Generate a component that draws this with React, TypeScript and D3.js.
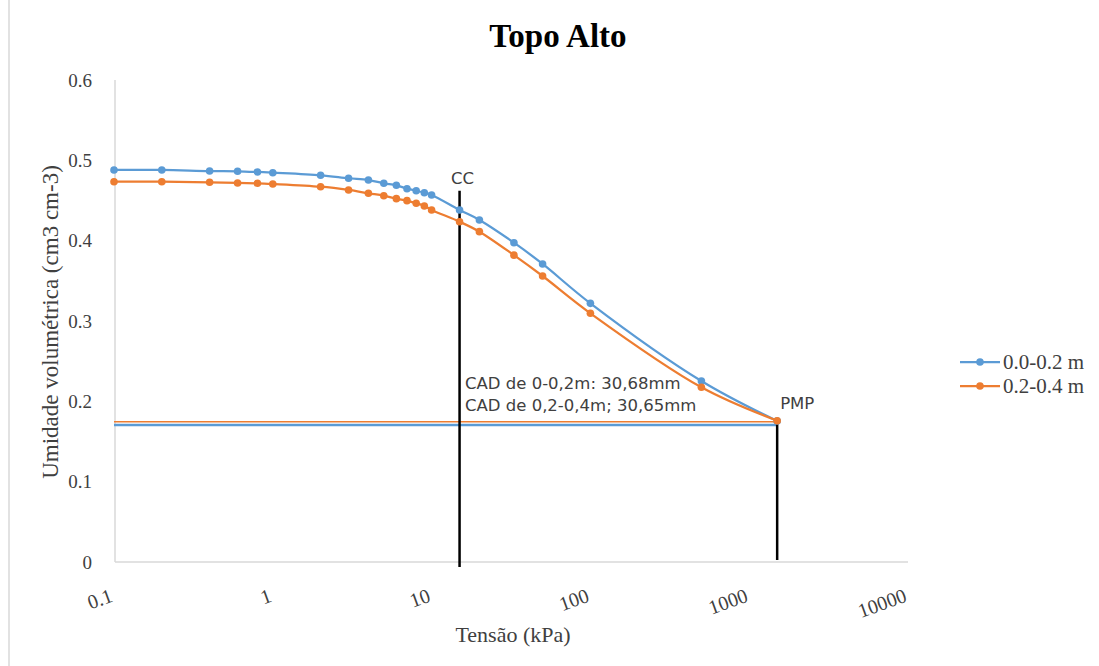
import { useEffect, useRef } from "react";
import * as d3 from "d3";

// tensão (kPa) for each measured point
const tensao = [0.1, 0.2, 0.4, 0.6, 0.8, 1, 2, 3, 4, 5, 6, 7, 8, 9, 10, 15, 20, 33, 50, 100, 500, 1500];
// umidade volumétrica 0.0-0.2 m
const umidade00_02 = [
  0.488, 0.488, 0.4867, 0.4864, 0.4855, 0.4846, 0.4814, 0.4777, 0.4755, 0.4714, 0.4689,
  0.4647, 0.4622, 0.4597, 0.4569, 0.4382, 0.4258, 0.3975, 0.371, 0.322, 0.2253, 0.1755,
];
// umidade volumétrica 0.2-0.4 m
const umidade02_04 = [
  0.4734, 0.4734, 0.4727, 0.4718, 0.4714, 0.4706, 0.4672, 0.4631, 0.459, 0.456, 0.4523,
  0.4498, 0.4465, 0.4432, 0.4382, 0.4236, 0.4112, 0.382, 0.356, 0.3096, 0.2175, 0.1759,
];
const seriesNames = ["0.0-0.2 m", "0.2-0.4 m"];
const seriesColors = ["#5b9bd5", "#ed7d31"];

const yTicks = [0, 0.1, 0.2, 0.3, 0.4, 0.5, 0.6];
const xTicks = [0.1, 1, 10, 100, 1000, 10000];

// reference lines
const ccTensao = 15;
const ccTop = 0.462;
const pmpTensao = 1500;
const pmpTop = 0.176;
const pmpLevels = [0.1705, 0.1747]; // horizontal lines, one per layer
const cadLabels = ["CAD de 0-0,2m: 30,68mm", "CAD de 0,2-0,4m; 30,65mm"];

export default function App() {
  const svgRef = useRef<SVGSVGElement>(null);

  useEffect(() => {
    document.body.style.margin = "0";
    const svg = d3.select(svgRef.current);
    svg.selectAll("*").remove();

    const x = d3.scaleLog().domain([0.1, 10000]).range([114, 908]);
    const y = d3.scaleLinear().domain([0, 0.6]).range([562, 80]);

    const serif = "'Liberation Serif', 'Times New Roman', serif";
    const sans = "'DejaVu Sans', 'Open Sans', sans-serif";

    // outer frame line at the left
    svg.append("line")
      .attr("x1", 9).attr("x2", 9).attr("y1", 0).attr("y2", 666)
      .attr("stroke", "#d9d9d9").attr("stroke-width", 1.5);

    // title
    svg.append("text")
      .attr("x", 558).attr("y", 47)
      .attr("text-anchor", "middle")
      .style("font-family", serif)
      .style("font-weight", "bold")
      .style("font-size", "33px")
      .attr("fill", "#000")
      .text("Topo Alto");

    // axis lines
    svg.append("line")
      .attr("x1", 115).attr("x2", 115).attr("y1", 80).attr("y2", 562)
      .attr("stroke", "#d9d9d9").attr("stroke-width", 1.5);
    svg.append("line")
      .attr("x1", 115).attr("x2", 908).attr("y1", 562).attr("y2", 562)
      .attr("stroke", "#d9d9d9").attr("stroke-width", 1.5);

    // y tick labels
    svg.append("g").selectAll("text")
      .data(yTicks)
      .join("text")
      .attr("x", 92)
      .attr("y", (d) => y(d))
      .attr("dy", "0.35em")
      .attr("text-anchor", "end")
      .style("font-family", serif)
      .style("font-size", "19px")
      .attr("fill", "#404040")
      .text((d) => (d === 0 ? "0" : d3.format(".1f")(d)));

    // x tick labels, rotated like the excel ones
    svg.append("g").selectAll("text")
      .data(xTicks)
      .join("text")
      .attr("transform", (d) => `translate(${x(d)},601) rotate(-20)`)
      .attr("text-anchor", "end")
      .style("font-family", serif)
      .style("font-size", "20px")
      .attr("fill", "#404040")
      .text((d) => String(d));

    // axis titles
    svg.append("text")
      .attr("x", 513).attr("y", 642)
      .attr("text-anchor", "middle")
      .style("font-family", serif)
      .style("font-size", "22px")
      .attr("fill", "#404040")
      .text("Tensão (kPa)");
    svg.append("text")
      .attr("transform", "translate(50,322) rotate(-90)")
      .attr("dy", "0.35em")
      .attr("text-anchor", "middle")
      .style("font-family", serif)
      .style("font-size", "23px")
      .attr("fill", "#404040")
      .text("Umidade volumétrica (cm3 cm-3)");

    // PMP horizontal lines
    pmpLevels.forEach((lvl, i) => {
      svg.append("line")
        .attr("x1", x(0.1)).attr("x2", x(pmpTensao))
        .attr("y1", y(lvl)).attr("y2", y(lvl))
        .attr("stroke", seriesColors[i])
        .attr("stroke-width", i === 0 ? 2.5 : 1.5);
    });

    // CC and PMP vertical lines
    svg.append("line")
      .attr("x1", x(ccTensao)).attr("x2", x(ccTensao))
      .attr("y1", y(0) + 5).attr("y2", y(ccTop))
      .attr("stroke", "#000").attr("stroke-width", 2.5);
    svg.append("line")
      .attr("x1", x(pmpTensao)).attr("x2", x(pmpTensao))
      .attr("y1", y(0) - 2).attr("y2", y(pmpTop))
      .attr("stroke", "#000").attr("stroke-width", 2.5);

    const line = d3.line<[number, number]>()
      .x((d) => x(d[0]))
      .y((d) => y(d[1]))
      .curve(d3.curveCatmullRom.alpha(0.5));

    [umidade00_02, umidade02_04].forEach((vals, i) => {
      const pts: [number, number][] = tensao.map((t, j) => [t, vals[j]]);
      svg.append("path")
        .datum(pts)
        .attr("fill", "none")
        .attr("stroke", seriesColors[i])
        .attr("stroke-width", 2.25)
        .attr("d", line);
      svg.append("g").selectAll("circle")
        .data(pts)
        .join("circle")
        .attr("cx", (d) => x(d[0]))
        .attr("cy", (d) => y(d[1]))
        .attr("r", 3.8)
        .attr("fill", seriesColors[i]);
    });

    // annotations
    svg.append("text")
      .attr("x", x(ccTensao) + 3).attr("y", 178)
      .attr("dy", "0.35em")
      .attr("text-anchor", "middle")
      .style("font-family", sans)
      .style("font-size", "16.5px")
      .attr("fill", "#404040")
      .text("CC");
    svg.append("text")
      .attr("x", x(pmpTensao) + 3).attr("y", 403)
      .attr("dy", "0.35em")
      .style("font-family", sans)
      .style("font-size", "16.5px")
      .attr("fill", "#404040")
      .text("PMP");
    cadLabels.forEach((t, i) => {
      svg.append("text")
        .attr("x", 465).attr("y", 383 + i * 22)
        .attr("dy", "0.35em")
        .style("font-family", sans)
        .style("font-size", "16.5px")
        .attr("fill", "#404040")
        .text(t);
    });

    // legend
    seriesNames.forEach((name, i) => {
      const ly = 362 + i * 24;
      svg.append("line")
        .attr("x1", 960).attr("x2", 1000).attr("y1", ly).attr("y2", ly)
        .attr("stroke", seriesColors[i]).attr("stroke-width", 2.25);
      svg.append("circle")
        .attr("cx", 980).attr("cy", ly).attr("r", 3.8)
        .attr("fill", seriesColors[i]);
      svg.append("text")
        .attr("x", 1003).attr("y", ly)
        .attr("dy", "0.35em")
        .style("font-family", serif)
        .style("font-size", "21px")
        .attr("fill", "#404040")
        .text(name);
    });
  }, []);

  return (
    <svg
      ref={svgRef}
      width={1099}
      height={666}
      style={{ display: "block", background: "#fff" }}
    />
  );
}
